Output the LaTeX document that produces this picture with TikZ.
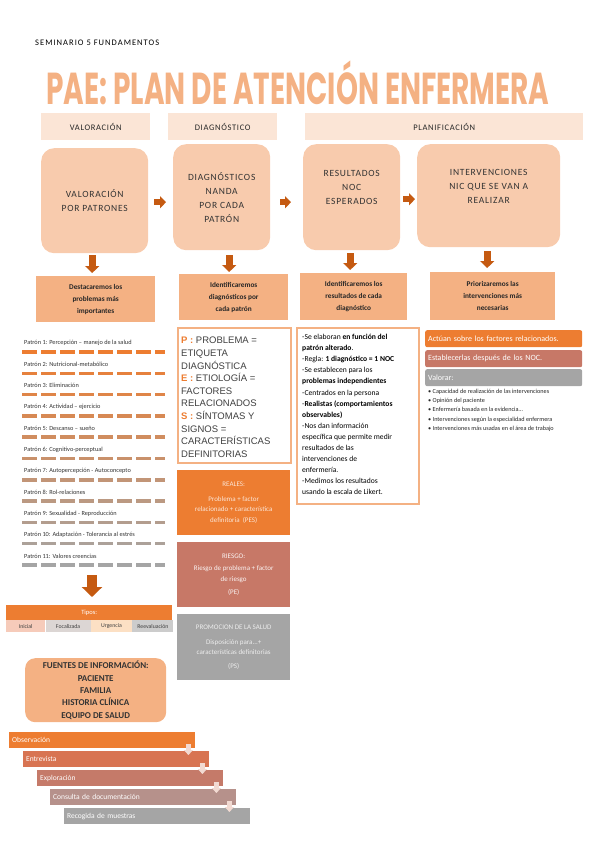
\documentclass[tikz,border=0pt]{standalone}
\usepackage{fontspec}
\setmainfont{Carlito}
\newfontfamily\spacedfont{Carlito}[LetterSpace=8]
\newfontfamily\widefont{Carlito}[LetterSpace=12]
\newfontfamily\pesfont{Liberation Sans}
\newfontfamily\titlefont{Poppins}
\usetikzlibrary{arrows.meta}

\definecolor{peachlight}{HTML}{FBE5D6}
\definecolor{peach}{HTML}{F8CBAD}
\definecolor{peachmid}{HTML}{F4B183}
\definecolor{orangeacc}{HTML}{ED7D31}
\definecolor{orangedark}{HTML}{C55A11}
\definecolor{rust}{HTML}{C77867}
\definecolor{greyacc}{HTML}{A5A5A5}
\definecolor{textgrey}{HTML}{404040}
\definecolor{stepa}{HTML}{ED7D31}
\definecolor{stepb}{HTML}{D87452}
\definecolor{stepc}{HTML}{C57A69}
\definecolor{stepd}{HTML}{B6918B}
\definecolor{stepe}{HTML}{A5A5A5}

\newcommand{\pesl}[1]{{\bfseries\color{orangeacc}#1 :}}

\begin{document}
\begin{tikzpicture}[x=1pt,y=-1pt,
  hdrbox/.style={fill=peachlight, anchor=north west, inner sep=0pt, text=black!85,
    font=\spacedfont\fontsize{8.5}{9}\selectfont},
  bigbox/.style={fill=peach, rounded corners=13pt, anchor=north west, align=center,
    inner sep=0pt, text=black!80, font=\spacedfont\fontsize{9.5}{14}\selectfont},
  notebox/.style={fill=peachmid, anchor=north west, align=center, inner sep=0pt,
    text=black!85, font=\bfseries\fontsize{7.3}{12}\selectfont},
  framebox/.style={draw=peachmid, line width=1.5pt, fill=white, anchor=north west, inner sep=0pt},
  typebox/.style={anchor=north west, align=center, inner sep=0pt, minimum width=113pt,
    font=\fontsize{7}{10.5}\selectfont},
  sidebar/.style={anchor=north west, rounded corners=2pt, minimum width=157pt, minimum height=17pt,
    text width=151pt, align=left, inner sep=3pt, text=white, font=\fontsize{8}{9}\selectfont},
  pattext/.style={anchor=west, inner sep=0pt, text=black!80, font=\fontsize{6.3}{7}\selectfont},
  patline/.style={line width=3.5pt, dash pattern=on 15pt off 4pt},
  tipocell/.style={anchor=north west, minimum height=12pt, inner sep=0pt, text=black!75,
    font=\fontsize{5.8}{6}\selectfont},
  stepbar/.style={anchor=north west, minimum width=186pt, minimum height=16pt, text width=180pt,
    align=left, inner sep=3pt, text=white, font=\fontsize{7.5}{8}\selectfont},
  rarrow/.style={orangedark, line width=5.5pt, -{Triangle[length=6pt,width=12pt]}},
  darrow/.style={orangedark, line width=7pt, -{Triangle[length=7pt,width=14pt]}},
  bigdarrow/.style={orangedark, line width=10pt, -{Triangle[length=10pt,width=20pt]}},
  steparrow/.style={draw={rgb,255:red,242;green,218;blue,210}, line width=5pt,
    -{Triangle[length=5pt,width=9pt]}}
]
\useasboundingbox (0,0) rectangle (599,848);

% cabecera
\node[anchor=west, inner sep=0pt, font=\widefont\fontsize{8.5}{9}\selectfont] (seminario) at (35,43) {SEMINARIO 5 FUNDAMENTOS};
\node[anchor=base, inner sep=0pt, text=peachmid] (titulo) at (298,105)
  {\resizebox{503pt}{!}{\scalebox{1}[1.6]{\titlefont\bfseries PAE: PLAN DE ATENCIÓN ENFERMERA}}};

% fases
\node[hdrbox, minimum width=109pt, minimum height=27pt] (hval) at (41,113) {VALORACIÓN};
\node[hdrbox, minimum width=109pt, minimum height=27pt] (hdiag) at (168,113) {DIAGNÓSTICO};
\node[hdrbox, minimum width=278pt, minimum height=27pt] (hplan) at (305,113) {PLANIFICACIÓN};

% cajas grandes
\node[bigbox, minimum width=107pt, minimum height=105pt] (vp) at (41,148) {VALORACIÓN\\POR PATRONES};
\node[bigbox, minimum width=97pt, minimum height=106pt] (dn) at (173,144) {DIAGNÓSTICOS\\NANDA\\POR CADA\\PATRÓN};
\node[bigbox, minimum width=97pt, minimum height=106pt] (res) at (303,144) {RESULTADOS\\NOC\\ESPERADOS\\[6pt]};
\node[bigbox, minimum width=143pt, minimum height=103pt] (int) at (417,144) {INTERVENCIONES\\NIC QUE SE VAN A\\REALIZAR\\[4pt]};

\draw[rarrow, shorten <=6pt, shorten >=7pt] ([yshift=-1.5pt]vp.east) -- ([yshift=-1.5pt]vp.east -| dn.west);
\draw[rarrow, shorten <=10pt, shorten >=12pt] ([yshift=-5pt]dn.east) -- ([yshift=-5pt]dn.east -| res.west);
\draw[rarrow, shorten <=3pt, shorten >=2pt] ([yshift=-2pt]res.east) -- ([yshift=-2pt]res.east -| int.west);

% notas
\node[notebox, minimum width=119pt, minimum height=46pt] (note1) at (36,276) {Destacaremos los\\problemas más\\importantes};
\node[notebox, minimum width=109pt, minimum height=46pt] (note2) at (179,274) {Identificaremos\\diagnósticos por\\cada patrón};
\node[notebox, minimum width=107pt, minimum height=47pt] (note3) at (300,273) {Identificaremos los\\resultados de cada\\diagnóstico};
\node[notebox, minimum width=125pt, minimum height=48pt] (note4) at (430,272) {Priorizaremos las\\intervenciones más\\necesarias};

\draw[darrow, shorten <=2pt, shorten >=3pt] ([xshift=-2.5pt]vp.south) -- ([xshift=-2.5pt]vp.south |- note1.north);
\draw[darrow, shorten <=5pt, shorten >=2pt] ([xshift=7.5pt]dn.south) -- ([xshift=7.5pt]dn.south |- note2.north);
\draw[darrow, shorten <=3pt, shorten >=3pt] ([xshift=-1.5pt]res.south) -- ([xshift=-1.5pt]res.south |- note3.north);
\draw[darrow, shorten <=4pt, shorten >=4pt] ([xshift=-1.5pt]int.south) -- ([xshift=-1.5pt]int.south |- note4.north);

% patrones
\foreach \pat [count=\i] in {Patrón 1: Percepción – manejo de la salud, Patrón 2: Nutricional-metabólico,
  Patrón 3: Eliminación, Patrón 4: Actividad – ejercicio, Patrón 5: Descanso – sueño,
  Patrón 6: Cognitivo-perceptual, Patrón 7: Autopercepción - Autoconcepto, Patrón 8: Rol-relaciones,
  Patrón 9: Sexualidad - Reproducción, Patrón 10: Adaptación - Tolerancia al estrés,
  Patrón 11: Valores creencias}{
  \pgfmathsetmacro{\ytext}{343+21.3*(\i-1)}
  \pgfmathtruncatemacro{\mix}{100-(\i-1)*10}
  \node[pattext] (pat\i) at (24,\ytext) {\pat};
  \draw[patline, draw=orangeacc!\mix!greyacc] (22,\ytext+9) -- (165,\ytext+9);
}

% tipos
\coordinate (listend) at (92,572);
\node[anchor=north west, fill=orangeacc, minimum width=166pt, minimum height=15pt, inner sep=0pt,
  text=white, font=\fontsize{6.5}{7}\selectfont] (tipos) at (6,605) {Tipos:};
\draw[bigdarrow, shorten <=3pt, shorten >=8pt] (listend) -- (listend |- tipos.north);
\node[tipocell, fill={rgb,255:red,246;green,203;blue,186}, minimum width=39pt] (inicial) at (6,620) {Inicial};
\node[tipocell, fill={rgb,255:red,220;green,214;blue,212}, minimum width=45pt, anchor=north west] (focal) at (inicial.north east) {Focalizada};
\node[tipocell, fill={rgb,255:red,252;green,224;blue,196}, minimum width=41pt, anchor=north west] (urgencia) at (focal.north east) {Urgencia};
\node[tipocell, fill={rgb,255:red,204;green,204;blue,204}, minimum width=41pt, anchor=north west] (reeval) at (urgencia.north east) {Reevaluación};

% PES
\node[framebox, minimum width=113pt, minimum height=135pt] (pes) at (177,327) {};
\node[anchor=north west, align=left, inner sep=0pt, text=textgrey,
  font=\pesfont\fontsize{9.5}{12.6}\selectfont] (pestext) at (181,337)
  {\pesl{P} PROBLEMA =\\ETIQUETA\\DIAGNÓSTICA\\\pesl{E} ETIOLOGÍA =\\FACTORES\\RELACIONADOS\\
   \pesl{S} SÍNTOMAS Y\\SIGNOS =\\CARACTERÍSTICAS\\DEFINITORIAS};

\node[typebox, fill=orangeacc, minimum height=65pt, text=peachlight] (reales) at (177,470)
  {REALES:\\[4pt]Problema + factor\\relacionado + característica\\definitoria \ (PES)};
\node[typebox, fill=rust, minimum height=65pt, text=white!92!rust] (riesgo) at (177,542)
  {RIESGO:\\[2pt]Riesgo de problema + factor\\de riesgo\\[3pt](PE)};
\node[typebox, fill=greyacc, minimum height=66pt, text=white!80!greyacc] (promo) at (177,614)
  {PROMOCION DE LA SALUD\\[4pt]Disposición para...+\\características definitorias\\[3pt](PS)};

% NOC
\node[framebox, minimum width=122pt, minimum height=176pt] (noc) at (296,327) {};
\node[anchor=north west, align=left, inner sep=0pt, text=black,
  font=\fontsize{7.6}{11.1}\selectfont] (noctext) at (302,334)
  {-Se elaboran \textbf{en función del}\\\textbf{patrón alterado}.\\-Regla: \textbf{1 diagnóstico = 1 NOC}\\
   -Se establecen para los\\\textbf{problemas independientes}\\-Centrados en la persona\\
   -\textbf{Realistas (comportamientos}\\\textbf{observables)}\\-Nos dan información\\
   específica que permite medir\\resultados de las\\intervenciones de\\enfermería.\\
   -Medimos los resultados\\usando la escala de Likert.};

% intervenciones
\node[sidebar, fill=orangeacc] (actuan) at (425,330) {Actúan sobre los factores relacionados.};
\node[sidebar, fill=rust] (establecer) at (425,350) {Establecerlas después de los NOC.};
\node[sidebar, fill=greyacc] (valorar) at (425,369) {Valorar:};
\node[anchor=north west, align=left, inner sep=0pt, text=black!85,
  font=\fontsize{6.2}{9.2}\selectfont] (vallist) at (428,389)
  {• Capacidad de realización de las intervenciones\\• Opinión del paciente\\
   • Enfermería basada en la evidencia…\\• Intervenciones según la especialidad enfermera\\
   • Intervenciones más usadas en el área de trabajo};

% fuentes
\node[anchor=north west, fill=peachmid, rounded corners=10pt, minimum width=141pt, minimum height=64pt,
  align=center, inner sep=0pt, text=black!80, font=\bfseries\fontsize{9}{12.4}\selectfont] (fuentes) at (25,658)
  {FUENTES DE INFORMACIÓN:\\PACIENTE\\FAMILIA\\HISTORIA CLÍNICA\\EQUIPO DE SALUD};

% pasos
\node[stepbar, fill=stepa] (obs) at (9,732) {Observación};
\node[stepbar, fill=stepb] (ent) at (23,751) {Entrevista};
\node[stepbar, fill=stepc] (expl) at (37,770) {Exploración};
\node[stepbar, fill=stepd] (cons) at (50,789) {Consulta de documentación};
\node[stepbar, fill=stepe] (recog) at (64,808) {Recogida de muestras};

\draw[steparrow] ([xshift=-7pt,yshift=4pt]obs.south east) -- ([xshift=-7pt,yshift=-4pt]obs.south east |- ent.north);
\draw[steparrow] ([xshift=-7pt,yshift=4pt]ent.south east) -- ([xshift=-7pt,yshift=-4pt]ent.south east |- expl.north);
\draw[steparrow] ([xshift=-7pt,yshift=4pt]expl.south east) -- ([xshift=-7pt,yshift=-4pt]expl.south east |- cons.north);
\draw[steparrow] ([xshift=-7pt,yshift=4pt]cons.south east) -- ([xshift=-7pt,yshift=-4pt]cons.south east |- recog.north);

\end{tikzpicture}
\end{document}
